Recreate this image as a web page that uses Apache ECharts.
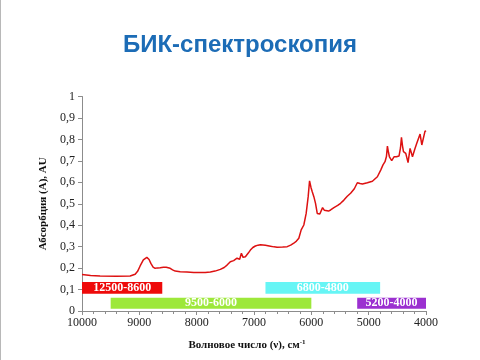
<!DOCTYPE html>
<html>
<head>
<meta charset="utf-8">
<script src="https://cdn.jsdelivr.net/npm/echarts@6/dist/echarts.min.js"></script>
<style>html,body{margin:0;padding:0;background:#fff;}#c{width:480px;height:360px;}</style>
</head>
<body>
<div id="c"></div>
<script>
// Spectrum data
var wavenumbers = [10000,9850,9685,9400,9161,9073,9030,8986,8930,8869,8830,8799,8760,8724,8680,8636,8580,8531,8462,8420,8374,8287,8170,8050,7937,7850,7762,7680,7587,7520,7470,7413,7355,7296,7250,7220,7191,7150,7100,7063,7020,6976,6930,6888,6801,6713,6650,6597,6500,6421,6360,6306,6260,6218,6177,6131,6090,6055,6031,6005,5984,5956,5927,5897,5852,5804,5775,5752,5700,5664,5606,5540,5490,5432,5373,5315,5250,5198,5150,5110,5023,4935,4848,4790,4750,4715,4690,4673,4655,4638,4598,4558,4516,4470,4445,4428,4410,4393,4353,4313,4278,4236,4196,4161,4131,4103,4073,4044,4016,4002];
var absorbance = [0.170,0.166,0.163,0.162,0.163,0.171,0.185,0.210,0.238,0.250,0.240,0.222,0.205,0.199,0.201,0.202,0.204,0.204,0.199,0.192,0.186,0.183,0.182,0.180,0.179,0.180,0.182,0.186,0.194,0.203,0.214,0.230,0.235,0.246,0.241,0.269,0.250,0.253,0.270,0.284,0.296,0.303,0.307,0.309,0.306,0.302,0.299,0.297,0.298,0.300,0.307,0.316,0.326,0.339,0.378,0.401,0.455,0.533,0.607,0.575,0.556,0.533,0.502,0.455,0.452,0.482,0.470,0.463,0.466,0.471,0.482,0.492,0.502,0.517,0.535,0.549,0.570,0.598,0.594,0.592,0.598,0.605,0.626,0.657,0.681,0.696,0.720,0.769,0.740,0.719,0.701,0.719,0.719,0.723,0.760,0.810,0.770,0.743,0.735,0.692,0.758,0.719,0.754,0.782,0.774,0.825,0.774,0.782,0.840,0.836];

// Spectral range bands
var bandLabels = ['12500-8600','9500-6000','6800-4800','5200-4000'];
var bandStart = [10000,9500,6800,5200];
var bandEnd = [8600,6000,4800,4000];
var bandLow = [0.08,0.01,0.08,0.01];
var bandHigh = [0.135,0.062,0.135,0.062];
var bandColors = ['#ee0a0a','#9de83a','#66f5f5','#9b30d0'];

// Axis ticks
var xMin = 4000, xMax = 10000, xStep = 1000;
var yMin = 0, yMax = 1, yStep = 0.1;

var lineData = wavenumbers.map(function(w, i){ return [w, absorbance[i]]; });
var bandData = bandLabels.map(function(l, i){ return [bandStart[i], bandEnd[i], bandLow[i], bandHigh[i], i]; });

var chart = echarts.init(document.getElementById('c'), null, {renderer:'canvas'});
var serif = '"Liberation Serif", "Times New Roman", serif';
chart.setOption({
  animation: false,
  backgroundColor: '#fff',
  title: {
    text: 'БИК-спектроскопия',
    left: 'center', top: 33, padding: 0,
    textStyle: {fontFamily: '"Liberation Sans", Arial, sans-serif', fontWeight: 'bold', fontSize: 24, color: '#1c6cb6'}
  },
  graphic: [{type:'line', shape:{x1:0.5,y1:0,x2:0.5,y2:360}, style:{stroke:'#b8b8b8', lineWidth:1}}],
  grid: {left: 82, right: 54, top: 96.5, bottom: 49},
  xAxis: {
    type: 'value', min: xMin, max: xMax, interval: xStep, inverse: true,
    name: 'Волновое число (ν), см{sup|-1}',
    nameLocation: 'middle', nameGap: 28,
    nameTextStyle: {fontFamily: serif, fontWeight: 'bold', fontSize: 11, color: '#111', padding: [0, 14, 0, 0],
      rich: {sup: {fontFamily: serif, fontWeight: 'bold', fontSize: 7, color: '#111', verticalAlign: 'top', padding:[0,0,6,0]}}},
    axisLine: {lineStyle: {color: '#8c8c8c', width: 1}},
    axisTick: {show: true, inside: false, length: 4, lineStyle: {color: '#8c8c8c'}},
    minorTick: {show: true, splitNumber: 5, length: 3, lineStyle: {color: '#8c8c8c'}},
    axisLabel: {fontFamily: serif, fontSize: 12, color: '#222', margin: 6,
      formatter: function(v){ return String(v); }},
    splitLine: {show: false}
  },
  yAxis: {
    type: 'value', min: yMin, max: yMax, interval: yStep,
    name: 'Абсорбция (A), AU',
    nameLocation: 'middle', nameGap: 31, nameRotate: 90,
    nameTextStyle: {fontFamily: serif, fontWeight: 'bold', fontSize: 11, color: '#111'},
    axisLine: {show: true, lineStyle: {color: '#8c8c8c', width: 1}},
    axisTick: {show: true, inside: false, length: 4, lineStyle: {color: '#8c8c8c'}},
    axisLabel: {fontFamily: serif, fontSize: 12, color: '#222', margin: 7,
      formatter: function(v){ return String(Math.round(v*10)/10).replace('.', ','); }},
    splitLine: {show: false}
  },
  series: [
    {
      type: 'custom',
      data: bandData,
      z: 1,
      renderItem: function(params, api){
        var p1 = api.coord([api.value(0), api.value(3)]);
        var p2 = api.coord([api.value(1), api.value(2)]);
        var i = api.value(4);
        var x = Math.min(p1[0], p2[0]), w = Math.abs(p2[0]-p1[0]);
        var y = Math.min(p1[1], p2[1]), h = Math.abs(p2[1]-p1[1]);
        return {
          type: 'rect',
          shape: {x: x, y: y, width: w, height: h},
          style: {fill: bandColors[i]},
          textContent: {
            style: {text: bandLabels[i], fill: '#fff', font: 'bold 12px ' + serif}
          },
          textConfig: {position: 'inside'}
        };
      }
    },
    {
      type: 'line',
      data: lineData,
      showSymbol: false,
      symbol: 'none',
      z: 3,
      lineStyle: {color: '#dd1111', width: 1.5}
    }
  ]
});
</script>
</body>
</html>
